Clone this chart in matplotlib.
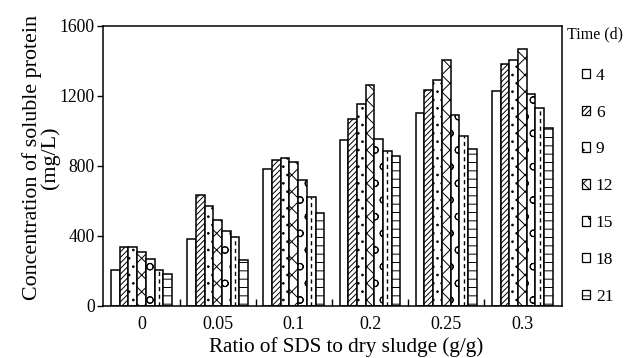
import numpy as np
import matplotlib
matplotlib.use("Agg")
import matplotlib.pyplot as plt

# --- Data ---
ratios = ["0", "0.05", "0.1", "0.2", "0.25", "0.3"]
times = ["4", "6", "9", "12", "15", "18", "21"]
protein = [
    [205, 385, 785, 948, 1100, 1227],    # 4 d
    [338, 632, 833, 1069, 1236, 1380],   # 6 d
    [338, 569, 846, 1156, 1290, 1404],   # 9 d
    [307, 490, 823, 1265, 1404, 1471],   # 12 d
    [267, 427, 721, 956, 1093, 1212],    # 15 d
    [208, 396, 625, 885, 974, 1131],     # 18 d
    [182, 265, 529, 856, 897, 1016],     # 21 d
]
hatches = ["", "//////", "..", "xx", "o", "", "--"]

plt.rcParams["font.family"] = ["Liberation Serif", "DejaVu Serif"]
plt.rcParams["hatch.linewidth"] = 0.7

W, H = 624, 358
fig = plt.figure(figsize=(W / 100, H / 100), dpi=100)
ax = fig.add_axes([103 / W, 52 / H, 459 / W, 280 / H])

x = np.arange(len(ratios))
n = len(times)
width = 0.8 / n
for i, (t, vals) in enumerate(zip(times, protein)):
    pos = x - 0.4 + width * (i + 0.5)
    ax.bar(pos, vals, width, color="white", edgecolor="black",
           linewidth=1.1, hatch=hatches[i], label=t)
    if t == "18":
        # dashed centre line pattern
        for p, v in zip(pos, vals):
            ax.plot([p, p], [0, v], color="black", lw=1.0, ls=(0, (3, 2.5)))

ax.set_xlim(-0.505, 5.52)
ax.set_ylim(0, 1600)
ax.set_yticks([0, 400, 800, 1200, 1600])
ax.set_xticks(x)
ax.set_xticklabels(ratios)
ax.set_xticks(x[:-1] + 0.5, minor=True)
ax.tick_params(axis="x", which="major", length=0, labelsize=13, pad=7)
ax.tick_params(axis="x", which="minor", direction="in", length=5, width=1)
ax.tick_params(axis="y", direction="out", length=4, width=1, labelsize=12.7, pad=2)
for s in ax.spines.values():
    s.set_linewidth(1.1)

fig.text(346 / W, 1 - 347 / H, "Ratio of SDS to dry sludge (g/g)",
         fontsize=15.2, ha="center", va="center")
fig.text(41 / W, 1 - 158 / H, "Concentration of soluble protein\n(mg/L)",
         fontsize=15.8, rotation=90, ha="center", va="center", linespacing=0.85)
fig.text(567 / W, 1 - 34 / H, "Time (d)", fontsize=11.5, ha="left", va="center")

leg = ax.legend(loc="upper left", bbox_to_anchor=(580 / W, 1 - 66 / H),
                bbox_transform=fig.transFigure, frameon=False,
                fontsize=12.5, handlelength=0.46, handleheight=0.46,
                handletextpad=0.35, labelspacing=1.2, borderpad=0.1,
                borderaxespad=0)
for h in leg.legend_handles:
    h.set_linewidth(0.9)

fig.savefig("out.png", dpi=100)
